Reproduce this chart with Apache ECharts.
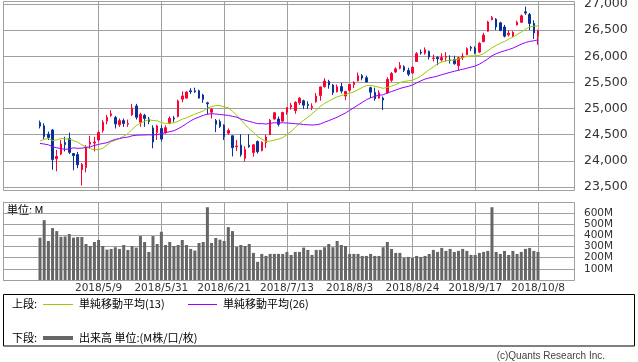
<!DOCTYPE html>
<html><head><meta charset="utf-8">
<script src="https://cdn.jsdelivr.net/npm/echarts/dist/echarts.min.js"></script>
<style>html,body{margin:0;padding:0;background:#fff}#c{width:638px;height:362px}</style>
</head><body><div id="c"></div>
<script>
const dates = ['2018/4/19','2018/4/20','2018/4/23','2018/4/24','2018/4/25','2018/4/26','2018/4/27','2018/4/30',
'2018/5/1','2018/5/2','2018/5/3','2018/5/4','2018/5/7','2018/5/8','2018/5/9','2018/5/10','2018/5/11','2018/5/14','2018/5/15','2018/5/16','2018/5/17','2018/5/18','2018/5/21','2018/5/22','2018/5/23','2018/5/24','2018/5/25','2018/5/29','2018/5/30','2018/5/31',
'2018/6/1','2018/6/4','2018/6/5','2018/6/6','2018/6/7','2018/6/8','2018/6/11','2018/6/12','2018/6/13','2018/6/14','2018/6/15','2018/6/18','2018/6/19','2018/6/20','2018/6/21','2018/6/22','2018/6/25','2018/6/26','2018/6/27','2018/6/28','2018/6/29',
'2018/7/2','2018/7/3','2018/7/5','2018/7/6','2018/7/9','2018/7/10','2018/7/11','2018/7/12','2018/7/13','2018/7/16','2018/7/17','2018/7/18','2018/7/19','2018/7/20','2018/7/23','2018/7/24','2018/7/25','2018/7/26','2018/7/27','2018/7/30','2018/7/31',
'2018/8/1','2018/8/2','2018/8/3','2018/8/6','2018/8/7','2018/8/8','2018/8/9','2018/8/10','2018/8/13','2018/8/14','2018/8/15','2018/8/16','2018/8/17','2018/8/20','2018/8/21','2018/8/22','2018/8/23','2018/8/24','2018/8/27','2018/8/28','2018/8/29','2018/8/30','2018/8/31',
'2018/9/4','2018/9/5','2018/9/6','2018/9/7','2018/9/10','2018/9/11','2018/9/12','2018/9/13','2018/9/14','2018/9/17','2018/9/18','2018/9/19','2018/9/20','2018/9/21','2018/9/24','2018/9/25','2018/9/26','2018/9/27','2018/9/28',
'2018/10/1','2018/10/2','2018/10/3','2018/10/4','2018/10/5','2018/10/8'];

const openP = [24730,24670,24510,24590,24040,24130,24350,24430,24140,24120,
23830,23870,24320,24340,24400,24580,24760,24870,24830,24690,
24770,24700,24880,25050,24740,24870,24800,24630,24540,24620,
24540,24720,24820,24850,25180,25200,25340,25340,25340,25260,
25110,24930,24770,24750,24680,24530,24480,24270,24300,24050,
24300,24160,24370,24200,24350,24500,24800,24800,24760,24930,
25030,24960,25110,25150,25080,25020,25130,25250,25420,25520,
25450,25320,25420,25240,25350,25460,25530,25630,25590,25400,
25310,25200,25200,25300,25540,25700,25770,25800,25730,25680,
25900,26080,26060,26090,25960,25980,25930,25980,25930,25940,
25820,25980,26030,26170,26150,26080,26280,26480,26700,26710,
26640,26560,26410,26390,26600,26650,26850,26800,26630,26390];

const highP = [24770,24720,24560,24610,24210,24400,24460,24540,24150,24170,
23960,24300,24480,24460,24580,24780,24880,24970,24860,24810,
24810,24790,25090,25090,24920,24900,24840,24680,24690,24680,
24680,24850,24860,25170,25330,25330,25390,25400,25360,25280,
25130,25010,24800,24790,24700,24620,24480,24400,24510,24280,
24510,24320,24390,24370,24500,24800,24930,24850,24940,25030,
25110,25140,25220,25170,25140,25100,25300,25420,25580,25550,
25470,25460,25490,25340,25470,25520,25690,25660,25630,25420,
25400,25350,25230,25600,25700,25790,25890,25830,25780,25810,
26080,26130,26170,26110,26030,26000,26060,26080,26020,26010,
25990,26060,26170,26200,26190,26270,26450,26680,26770,26730,
26660,26600,26500,26480,26680,26800,26951,26830,26690,26510];

const lowP = [24620,24410,24400,23830,23800,24110,24180,24130,23820,23860,
23530,23780,24230,24180,24360,24540,24700,24840,24620,24650,
24650,24650,24860,24790,24650,24650,24700,24240,24400,24370,
24520,24700,24740,24830,25120,25190,25280,25300,25190,25110,
24890,24810,24550,24630,24400,24500,24085,24190,24080,23990,
24250,24080,24140,24180,24250,24500,24790,24660,24750,24880,
24980,24900,25070,24990,24990,24970,25110,25150,25400,25380,
25260,25310,25290,25160,25320,25390,25520,25540,25500,25200,
25150,25190,24970,25290,25510,25680,25750,25700,25620,25670,
25890,26030,26030,25940,25900,25830,25900,25900,25860,25840,
25730,25930,26020,26100,26040,26060,26270,26470,26690,26500,
26480,26360,26380,26370,26590,26640,26790,26500,26330,26220];

const closeP = [24665,24463,24449,24024,24084,24322,24311,24163,24099,23925,
23930,24263,24357,24360,24543,24740,24831,24899,24706,24769,
24714,24715,25013,24834,24887,24812,24753,24361,24668,24416,
24635,24814,24800,25146,25241,25317,25322,25321,25201,25175,
25090,24987,24700,24658,24462,24581,24253,24283,24118,24216,
24271,24307,24175,24357,24456,24777,24920,24700,24925,25019,
25064,25120,25199,25065,25058,25044,25242,25414,25527,25451,
25307,25415,25334,25326,25463,25502,25629,25584,25509,25313,
25188,25300,25162,25559,25669,25759,25822,25734,25657,25790,
26050,26064,26125,25987,25965,25952,25975,25996,25917,25857,
25971,25999,26146,26155,26062,26247,26406,26657,26744,26562,
26492,26385,26440,26458,26651,26774,26828,26627,26447,26487];

const ma13 = [24379,24412,24426,24389,24401,24427,24420,24418,24388,24355,
24305,24265,24235,24212,24218,24240,24302,24365,24394,24430,
24472,24519,24603,24673,24721,24756,24786,24772,24766,24734,
24714,24722,24725,24758,24798,24822,24859,24893,24923,24955,
25011,25036,25058,25059,25032,25015,24947,24873,24781,24696,
24615,24546,24469,24413,24372,24378,24398,24417,24443,24502,
24562,24639,24715,24776,24834,24900,24968,25042,25100,25141,
25187,25225,25249,25269,25296,25319,25362,25403,25439,25444,
25427,25409,25387,25406,25426,25459,25497,25518,25530,25542,
25578,25621,25683,25744,25796,25856,25888,25914,25926,25928,
25947,25973,26000,26008,26008,26018,26050,26103,26164,26209,
26247,26283,26328,26366,26416,26464,26516,26559,26575,26581];

const ma26 = [24333,24322,24306,24270,24250,24235,24220,24228,24250,24239,
24242,24258,24268,24295,24315,24333,24346,24383,24411,24425,
24445,24454,24479,24489,24493,24495,24499,24495,24503,24518,
24539,24558,24577,24615,24659,24712,24766,24807,24839,24870,
24892,24901,24896,24887,24877,24870,24852,24836,24801,24778,
24754,24734,24712,24712,24704,24718,24729,24724,24729,24724,
24718,24710,24705,24695,24690,24685,24691,24707,24739,24769,
24802,24834,24876,24916,24967,25017,25069,25118,25169,25206,
25234,25255,25264,25297,25326,25354,25383,25407,25424,25452,
25490,25530,25564,25586,25602,25622,25648,25670,25692,25713,
25732,25751,25771,25793,25814,25850,25897,25949,26010,26049,
26080,26104,26128,26156,26194,26232,26262,26284,26296,26315];

const volume = [380,537,350,466,439,388,391,412,380,386,
386,323,305,341,359,305,273,279,294,279,
314,270,305,291,394,341,252,394,323,433,
314,341,305,314,359,314,279,264,332,341,
653,332,377,362,350,475,439,297,314,305,
323,243,163,234,216,234,234,234,234,252,
225,252,252,291,270,225,270,270,294,323,
294,350,314,305,234,234,234,216,216,234,
216,216,294,341,279,243,243,198,207,198,
216,207,216,234,270,252,288,261,279,252,
261,279,261,225,225,243,252,261,653,252,
234,261,225,261,234,252,279,288,261,252];

const dateTicks = ['2018/5/9','2018/5/31','2018/6/21','2018/7/13','2018/8/3','2018/8/24','2018/9/17','2018/10/8'];
const priceTicks = {min: 23500, max: 27000, step: 500};
const volumeTicks = {min: 0, max: 700, step: 100};

const UP = '#ff0033', DOWN = '#0a3296', GRIDC = '#a0a0a0';
const MA13C = '#99cc00', MA26C = '#9900ff', VOLC = '#666666';
const PT = 4, PB = 187, FT = 1, FB = 190;          // price panel layout (px)
const VT = 202, VB = 280;                           // volume panel layout (px)
const upp = (priceTicks.max - priceTicks.min) / (PB - PT);
const isTick = (i, v) => dateTicks.indexOf(v) >= 0;
const jp = '"Noto Sans CJK JP"';

const chart = echarts.init(document.getElementById('c'), null, {renderer: 'canvas'});
chart.setOption({
  animation: false,
  backgroundColor: '#ffffff',
  grid: [
    {left: 40, width: 498, top: FT, height: FB - FT, outerBoundsMode: 'none'},
    {left: 3, width: 571, top: PT, height: PB - PT, outerBoundsMode: 'none'},
    {left: 40, width: 498, top: VT, height: VB - VT, outerBoundsMode: 'none'},
    {left: 3, width: 571, top: VT, height: VB - VT, outerBoundsMode: 'none'}
  ],
  xAxis: [
    {type: 'category', gridIndex: 0, data: dates, boundaryGap: false,
     axisLine: {show: false}, axisTick: {show: false}, axisLabel: {show: false},
     splitLine: {show: true, interval: isTick, lineStyle: {color: GRIDC, width: 1}}},
    {type: 'value', gridIndex: 1, min: 0, max: 1, show: false},
    {type: 'category', gridIndex: 2, data: dates, boundaryGap: false,
     axisLine: {show: false}, axisTick: {show: false},
     axisLabel: {show: true, interval: isTick, showMinLabel: true, showMaxLabel: true, hideOverlap: false,
       margin: 3, fontSize: 10.5, fontFamily: 'DejaVu Sans', color: '#333'},
     splitLine: {show: true, interval: isTick, lineStyle: {color: GRIDC, width: 1}}},
    {type: 'value', gridIndex: 3, min: 0, max: 1, show: false}
  ],
  yAxis: [
    {type: 'value', gridIndex: 0, min: priceTicks.min - (PT - FT) * upp, max: priceTicks.max + (FB - PB) * upp, show: false},
    {type: 'value', gridIndex: 1, position: 'right', min: priceTicks.min, max: priceTicks.max, interval: priceTicks.step,
     axisLine: {show: true, lineStyle: {color: GRIDC}},
     axisTick: {show: true, length: 4, lineStyle: {color: GRIDC}},
     axisLabel: {margin: 10, fontSize: 12.5, fontFamily: 'DejaVu Sans', color: '#333',
       formatter: v => String(v).replace(/\B(?=(\d{3})+(?!\d))/g, ',')},
     splitLine: {show: true, lineStyle: {color: GRIDC, width: 1}}},
    {type: 'value', gridIndex: 2, min: volumeTicks.min, max: volumeTicks.max, show: false},
    {type: 'value', gridIndex: 3, position: 'right', min: volumeTicks.min, max: volumeTicks.max, interval: volumeTicks.step,
     axisLine: {show: true, lineStyle: {color: GRIDC}},
     axisTick: {show: true, length: 4, lineStyle: {color: GRIDC}},
     axisLabel: {margin: 10, fontSize: 10.5, fontFamily: 'DejaVu Sans', color: '#333',
       formatter: v => (v === volumeTicks.min || v === volumeTicks.max) ? '' : v + 'M'},
     splitLine: {show: true, lineStyle: {color: GRIDC, width: 1}}}
  ],
  series: [
    {type: 'candlestick', xAxisIndex: 0, yAxisIndex: 0, clip: false, barWidth: 2,
     data: dates.map((d, i) => [openP[i], closeP[i], lowP[i], highP[i]]),
     itemStyle: {color: UP, color0: DOWN, borderColor: UP, borderColor0: DOWN, borderWidth: 1}},
    {type: 'line', xAxisIndex: 0, yAxisIndex: 0, data: ma13, symbol: 'none', showSymbol: false,
     lineStyle: {color: MA13C, width: 1}, z: 4, silent: true},
    {type: 'line', xAxisIndex: 0, yAxisIndex: 0, data: ma26, symbol: 'none', showSymbol: false,
     lineStyle: {color: MA26C, width: 1}, z: 4, silent: true},
    {type: 'bar', xAxisIndex: 2, yAxisIndex: 2, data: volume, barWidth: 3,
     itemStyle: {color: VOLC}, silent: true}
  ],
  graphic: [
    {type: 'rect', silent: true, shape: {x: 3.5, y: FT + 0.5, width: 571, height: FB - FT}, style: {fill: 'none', stroke: GRIDC, lineWidth: 1}},
    {type: 'rect', silent: true, shape: {x: 3.5, y: VT + 0.5, width: 571, height: VB - VT}, style: {fill: 'none', stroke: GRIDC, lineWidth: 1}},
    {type: 'text', silent: true, x: 7, y: 210, style: {text: '単位: M', font: '11px ' + jp, fill: '#000', verticalAlign: 'middle', textVerticalAlign: 'middle'}},
    {type: 'rect', silent: true, shape: {x: 3.5, y: 294.5, width: 631, height: 51.5}, style: {fill: 'none', stroke: '#000', lineWidth: 1}},
    {type: 'text', silent: true, x: 12, y: 304, style: {text: '上段:', font: '11px ' + jp, fill: '#000', verticalAlign: 'middle', textVerticalAlign: 'middle'}},
    {type: 'line', silent: true, shape: {x1: 43, y1: 304.5, x2: 73, y2: 304.5}, style: {stroke: MA13C, lineWidth: 1}},
    {type: 'text', silent: true, x: 79, y: 304, style: {text: '単純移動平均(13)', font: '11px ' + jp, fill: '#000', verticalAlign: 'middle', textVerticalAlign: 'middle'}},
    {type: 'line', silent: true, shape: {x1: 188, y1: 304.5, x2: 217, y2: 304.5}, style: {stroke: MA26C, lineWidth: 1}},
    {type: 'text', silent: true, x: 223, y: 304, style: {text: '単純移動平均(26)', font: '11px ' + jp, fill: '#000', verticalAlign: 'middle', textVerticalAlign: 'middle'}},
    {type: 'text', silent: true, x: 12, y: 338, style: {text: '下段:', font: '11px ' + jp, fill: '#000', verticalAlign: 'middle', textVerticalAlign: 'middle'}},
    {type: 'line', silent: true, shape: {x1: 43, y1: 338, x2: 73, y2: 338}, style: {stroke: VOLC, lineWidth: 4}},
    {type: 'text', silent: true, x: 79, y: 338, style: {text: '出来高 単位:(M株/口/枚)', font: '11px ' + jp, fill: '#000', verticalAlign: 'middle', textVerticalAlign: 'middle'}},
    {type: 'text', silent: true, x: 605, y: 356, style: {text: '(c)Quants Research Inc.', font: '10px "Liberation Sans"', fill: '#444', align: 'right', textAlign: 'right', verticalAlign: 'middle', textVerticalAlign: 'middle'}}
  ]
});
</script>
</body></html>
